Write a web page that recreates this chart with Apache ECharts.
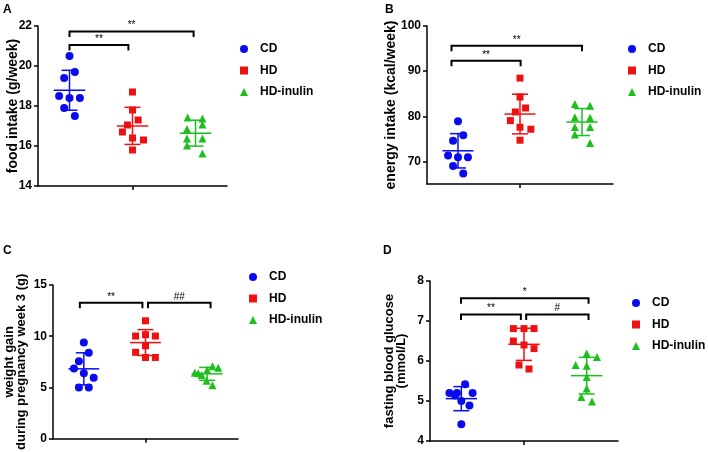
<!DOCTYPE html>
<html>
<head>
<meta charset="utf-8">
<script src="https://cdn.jsdelivr.net/npm/echarts@6.0.0/dist/echarts.min.js"></script>
<style>
    html, body { margin: 0; padding: 0; background: #fff; }
    #main { width: 708px; height: 452px; }
</style>
</head>
<body>
<div id="main"></div>
<script>
// groups and their x position on each panel's (hidden) value axis
var groups = ['CD', 'HD', 'HD-inulin'];
var groupPos = [1, 3, 5];

// A - food intake (g/week)
var foodCD = [20.5, 19.7, 19.4, 18.5, 18.4, 18.4, 17.9, 17.5];
var foodHD = [18.7, 17.8, 17.3, 17.05, 16.7, 16.4, 16.3, 15.8];
var foodInulin = [17.43, 17.37, 17.08, 16.85, 16.38, 16.38, 16.02, 15.63];
var foodJitter = [
    [0, 0.17, -0.17, -0.33, 0, 0.33, -0.17, 0.17],
    [0, 0, 0.18, -0.16, -0.32, 0, 0.35, 0],
    [-0.25, 0.22, 0.22, -0.27, -0.27, 0.22, -0.27, 0.22]
];
var foodTicks = [14, 22, 2];
var foodBrackets = [[1, 2.87, 21.05, '**'], [1, 4.94, 21.72, '**']];

// B - energy intake (kcal/week)
var energyCD = [78.9, 75.8, 74.6, 71.3, 70.95, 70.95, 69.0, 67.35];
var energyHD = [88.46, 84.27, 80.96, 81.84, 79.04, 77.57, 77.13, 74.7];
var energyInulin = [82.7, 82.35, 79.8, 79.7, 77.6, 77.6, 75.96, 74.1];
var energyJitter = [
    [0, 0.17, -0.16, -0.32, 0, 0.32, -0.16, 0.17],
    [0, 0, -0.15, 0.18, -0.31, 0, 0.35, 0],
    [-0.23, 0.26, -0.23, 0.26, -0.23, 0.26, -0.23, 0.26]
];
var energyRange = [65, 100];
var energyTicks = [70, 80, 90, 100];
var energyBrackets = [[0.79, 3.02, 92.3, '**'], [0.79, 5.0, 95.6, '**']];

// C - weight gain during pregnancy week 3 (g)
var gainCD = [9.39, 8.4, 7.55, 6.85, 6.4, 5.96, 5.0, 5.0];
var gainHD = [11.51, 10.02, 10.15, 10.02, 9.07, 8.43, 7.93, 7.93];
var gainInulin = [6.44, 6.22, 6.7, 7.08, 6.92, 5.65, 5.23, 6.4];
var gainJitter = [
    [0, 0.16, -0.16, -0.32, 0, 0.32, -0.16, 0.16],
    [0, -0.32, 0, 0.32, 0, -0.32, 0, 0.32],
    [-0.4, -0.18, 0, 0.17, 0.36, -0.02, 0.17, -0.29]
];
var gainTicks = [0, 15, 5];
var gainBrackets = [[0.87, 2.9, 13.26, '**'], [3.08, 5.11, 13.26, '##']];

// D - fasting blood glucose (mmol/L)
var glucoseCD = [5.42, 5.2, 5.14, 5.2, 5.2, 5.0, 4.89, 4.42];
var glucoseHD = [6.81, 6.81, 6.81, 6.5, 6.4, 6.31, 5.9, 5.8];
var glucoseInulin = [6.19, 6.1, 5.9, 5.88, 5.6, 5.31, 5.1, 4.99];
var glucoseJitter = [
    [0.12, -0.38, -0.2, -0.14, 0.36, 0, 0.26, 0],
    [-0.34, 0, 0.32, -0.34, 0, 0.32, -0.16, 0.16],
    [0, 0.33, -0.35, 0, 0, 0, -0.17, 0.17]
];
var glucoseTicks = [4, 8, 1];
var glucoseBrackets = [[0.99, 5.06, 7.57, '*'], [0.99, 2.9, 7.16, '**'], [3.07, 5.06, 7.16, '#']];

var FONT = "'Liberation Sans', Arial, Helvetica, sans-serif";
var colors = ['#0a0aee', '#ee1111', '#1cbf1c'];
var symbols = ['circle', 'rect', 'triangle'];
var symbolSizes = [8, 7, 8];

var panels = [
    {
        letter: 'A', letterPos: [3, 4],
        grid: { left: 38, top: 26, width: 189, height: 160 },
        yName: 'food intake (g/week)', nameGap: 19, nameSize: 14,
        values: [foodCD, foodHD, foodInulin], jitter: foodJitter,
        yMin: foodTicks[0], yMax: foodTicks[1], yInterval: foodTicks[2],
        brackets: foodBrackets, legend: [240, 42]
    },
    {
        letter: 'B', letterPos: [385, 4],
        grid: { left: 427, top: 26, width: 186, height: 158 },
        yName: 'energy intake (kcal/week)', nameGap: 30, nameSize: 14,
        values: [energyCD, energyHD, energyInulin], jitter: energyJitter,
        yMin: energyRange[0], yMax: energyRange[1], yCustom: energyTicks,
        brackets: energyBrackets, legend: [628, 42]
    },
    {
        letter: 'C', letterPos: [3, 245],
        grid: { left: 53, top: 285, width: 185, height: 158 },
        yName: 'weight gain\nduring pregnancy week 3 (g)', nameGap: 26, nameSize: 13,
        values: [gainCD, gainHD, gainInulin], jitter: gainJitter,
        yMin: gainTicks[0], yMax: gainTicks[1], yInterval: gainTicks[2],
        brackets: gainBrackets, legend: [249, 270]
    },
    {
        letter: 'D', letterPos: [383, 245],
        grid: { left: 430, top: 281, width: 188, height: 160 },
        yName: 'fasting blood glucose\n(mmol/L)', nameGap: 23, nameSize: 13,
        values: [glucoseCD, glucoseHD, glucoseInulin], jitter: glucoseJitter,
        yMin: glucoseTicks[0], yMax: glucoseTicks[1], yInterval: glucoseTicks[2],
        brackets: glucoseBrackets, legend: [632, 296]
    }
];

function mean(a) {
    var s = 0;
    for (var i = 0; i < a.length; i++) s += a[i];
    return s / a.length;
}

function sd(a) {
    var m = mean(a), s = 0;
    for (var i = 0; i < a.length; i++) s += (a[i] - m) * (a[i] - m);
    return Math.sqrt(s / (a.length - 1));
}

// mean line + SD whiskers
function renderErrorBar(params, api) {
    var x = api.value(0), m = api.value(1), s = api.value(2), k = api.value(3);
    var pm = api.coord([x, m]);
    var pt = api.coord([x, m + s]);
    var pb = api.coord([x, m - s]);
    var half = api.size([1, 0])[0] * 0.5;
    var cap = 8;
    var style = { stroke: colors[k], lineWidth: 1.5, fill: null };
    return {
        type: 'group',
        children: [
            { type: 'line', shape: { x1: pm[0] - half, y1: pm[1], x2: pm[0] + half, y2: pm[1] }, style: style },
            { type: 'line', shape: { x1: pt[0], y1: pt[1], x2: pb[0], y2: pb[1] }, style: style },
            { type: 'line', shape: { x1: pt[0] - cap, y1: pt[1], x2: pt[0] + cap, y2: pt[1] }, style: style },
            { type: 'line', shape: { x1: pb[0] - cap, y1: pb[1], x2: pb[0] + cap, y2: pb[1] }, style: style }
        ]
    };
}

function bracketSeries(idx, list) {
    return {
        type: 'custom',
        xAxisIndex: idx,
        yAxisIndex: idx,
        silent: true,
        z: 5,
        encode: { x: [0, 1], y: 2 },
        data: list.map(function (b) { return [b[0], b[1], b[2]]; }),
        renderItem: function (params, api) {
            var b = list[params.dataIndex];
            var p1 = api.coord([b[0], b[2]]);
            var p2 = api.coord([b[1], b[2]]);
            var drop = 5.5;
            return {
                type: 'group',
                children: [{
                    type: 'polyline',
                    shape: { points: [[p1[0], p1[1] + drop], [p1[0], p1[1]], [p2[0], p2[1]], [p2[0], p2[1] + drop]] },
                    style: { stroke: '#000', lineWidth: 2, fill: null }
                }, {
                    type: 'text',
                    style: {
                        text: b[3], x: (p1[0] + p2[0]) / 2, y: p1[1] - 1,
                        align: 'center', verticalAlign: 'bottom',
                        fontSize: 10, fontFamily: FONT, fill: '#000'
                    }
                }]
            };
        }
    };
}

var option = {
    animation: false,
    backgroundColor: '#fff',
    title: [],
    legend: [],
    grid: [],
    xAxis: [],
    yAxis: [],
    series: []
};

panels.forEach(function (p, i) {
    option.title.push({
        text: p.letter, left: p.letterPos[0], top: p.letterPos[1], padding: 0,
        textStyle: { fontSize: 12, fontWeight: 'bold', color: '#000', fontFamily: FONT }
    });
    option.grid.push(p.grid);
    option.xAxis.push({
        type: 'value', gridIndex: i, min: 0, max: 6, interval: 3,
        splitLine: { show: false },
        axisLine: { lineStyle: { color: '#000', width: 1.5 } },
        axisTick: { customValues: [3], length: 4, lineStyle: { color: '#000', width: 1.5 } },
        axisLabel: { show: false }
    });
    var y = {
        type: 'value', gridIndex: i, min: p.yMin, max: p.yMax,
        name: p.yName, nameLocation: 'middle', nameGap: p.nameGap, nameMoveOverlap: false,
        nameTextStyle: { fontSize: p.nameSize, fontWeight: 'bold', color: '#000', fontFamily: FONT, lineHeight: 12 },
        splitLine: { show: false },
        axisLine: { show: true, lineStyle: { color: '#000', width: 1.5 } },
        axisTick: { show: true, length: 4, lineStyle: { color: '#000', width: 1.5 } },
        axisLabel: { fontSize: 12, fontWeight: 'bold', color: '#000', fontFamily: FONT, margin: 6 }
    };
    if (p.yCustom) {
        y.axisTick.customValues = p.yCustom;
        y.axisLabel.customValues = p.yCustom;
    } else {
        y.interval = p.yInterval;
    }
    option.yAxis.push(y);

    option.legend.push({
        orient: 'vertical', left: p.legend[0], top: p.legend[1], padding: 0,
        itemWidth: 8, itemHeight: 8, itemGap: 7.5, selectedMode: false,
        data: groups.map(function (g, k) { return { name: g, icon: symbols[k] }; }),
        textStyle: { fontSize: 12, fontWeight: 'bold', color: '#000', fontFamily: FONT, lineHeight: 14, padding: [0, 0, 0, 7] }
    });

    var bars = [];
    groups.forEach(function (g, k) {
        var vals = p.values[k];
        option.series.push({
            type: 'scatter', name: g, xAxisIndex: i, yAxisIndex: i,
            symbol: symbols[k], symbolSize: symbolSizes[k], z: 3,
            itemStyle: { color: colors[k], opacity: 1 },
            data: vals.map(function (v, n) { return [groupPos[k] + p.jitter[k][n], v]; })
        });
        bars.push([groupPos[k], mean(vals), sd(vals), k]);
    });
    option.series.push({
        type: 'custom', xAxisIndex: i, yAxisIndex: i, silent: true, z: 2,
        encode: { x: 0, y: 1 },
        data: bars,
        renderItem: renderErrorBar
    });
    option.series.push(bracketSeries(i, p.brackets));
});

var chart = echarts.init(document.getElementById('main'), null, { renderer: 'canvas' });
chart.setOption(option);
</script>
</body>
</html>
